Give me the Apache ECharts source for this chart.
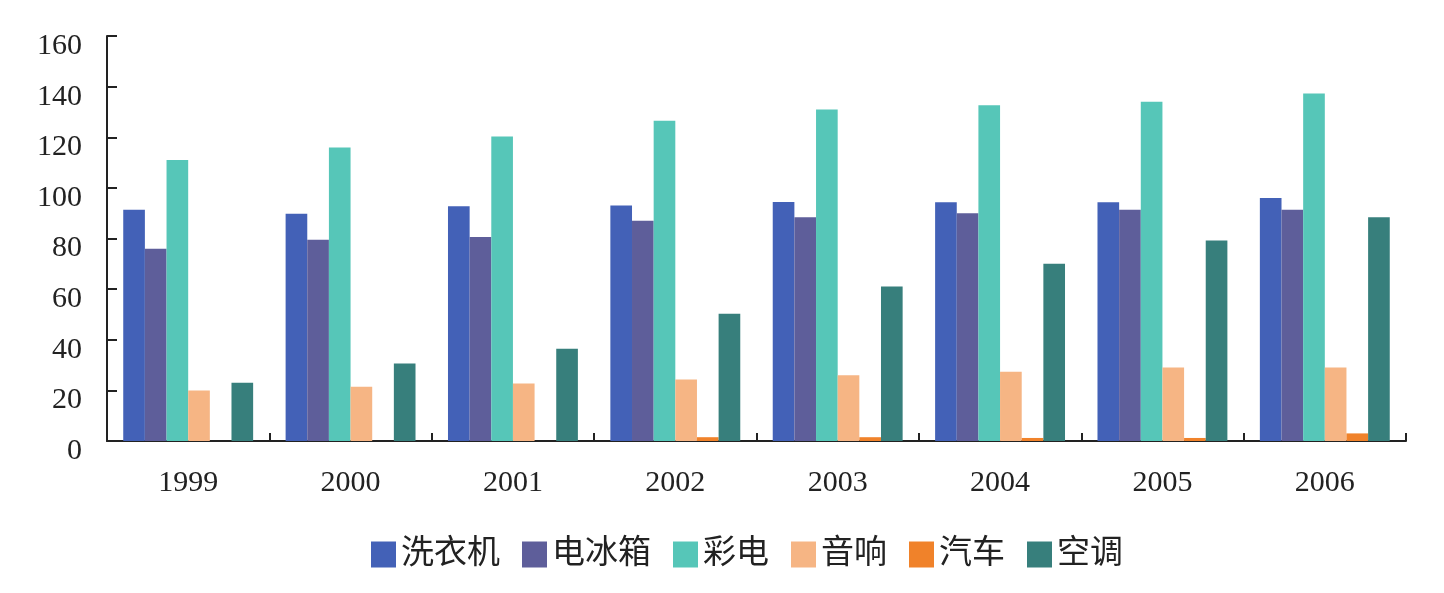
<!DOCTYPE html>
<html>
<head>
<meta charset="utf-8">
<script src="https://cdn.jsdelivr.net/npm/echarts@6/dist/echarts.min.js"></script>
<style>html,body{margin:0;padding:0;background:#fff;}#c{width:1444px;height:593px;}</style>
</head>
<body>
<div id="c"></div>
<script>
const years = ['1999','2000','2001','2002','2003','2004','2005','2006'];
const seriesNames = ['洗衣机','电冰箱','彩电','音响','汽车','空调'];
const washer = [91.4, 89.8, 92.7, 93, 94.4, 94.3, 94.3, 96];
const fridge = [76, 79.5, 80.6, 87, 88.4, 90, 91.4, 91.4];
const tv = [111, 116, 120.3, 126.5, 131, 132.6, 134, 137.3];
const audio = [20, 21.4, 22.7, 24.3, 26, 27.4, 29, 29];
const car = [0, 0, 0, 1.5, 1.5, 1.2, 1.2, 3];
const aircon = [23, 30.6, 36.4, 50.3, 61, 70, 79.2, 88.4];
const yTicks = [0, 20, 40, 60, 80, 100, 120, 140, 160];

const colors = ['#4361b7','#5e5e9a','#56c6b8','#f6b584','#f0822a','#377f7c'];
const values = [washer, fridge, tv, audio, car, aircon];
const font = '"Liberation Serif", "Noto Sans CJK SC", serif';

const chart = echarts.init(document.getElementById('c'));
chart.setOption({
  animation: false,
  grid: {left: 107, right: 38, top: 36, bottom: 152},
  legend: {
    data: seriesNames,
    left: 366, top: 533,
    itemWidth: 25, itemHeight: 26, itemGap: 22,
    icon: 'rect',
    textStyle: {fontFamily: font, fontSize: 33, color: '#222'}
  },
  xAxis: {
    type: 'category',
    data: years,
    axisLine: {lineStyle: {color: '#222', width: 2}},
    axisTick: {show: true, inside: true, length: 8, lineStyle: {color: '#222', width: 2}},
    axisLabel: {fontFamily: font, fontSize: 30, color: '#222', margin: 27}
  },
  yAxis: {
    type: 'value',
    min: yTicks[0], max: yTicks[yTicks.length-1], interval: 20,
    splitLine: {show: false},
    axisLine: {show: true, lineStyle: {color: '#222', width: 2}},
    axisTick: {show: true, inside: true, length: 10, lineStyle: {color: '#222', width: 2}},
    axisLabel: {fontFamily: font, fontSize: 30, color: '#222', margin: 25, verticalAlign: 'top', lineHeight: 20}
  },
  series: seriesNames.map((n, i) => ({
    name: n,
    type: 'bar',
    data: values[i],
    barGap: '0%',
    barCategoryGap: '20%',
    itemStyle: {color: colors[i]}
  }))
});
</script>
</body>
</html>
